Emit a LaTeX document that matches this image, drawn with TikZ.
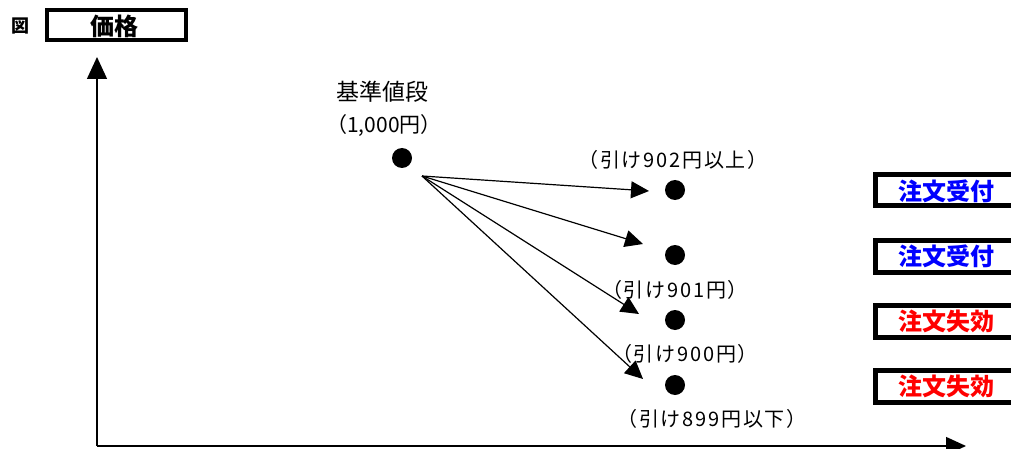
\documentclass[tikz,border=0pt]{standalone}
\usepackage{fontspec}
\setmainfont{Noto Sans CJK JP}
\newfontfamily\lblfont{Noto Sans CJK JP}[LetterSpace=9]
\usetikzlibrary{arrows.meta}
\tikzset{
  dot/.style={circle,fill=black,inner sep=0pt,minimum size=20pt},
  lbl/.style={font=\lblfont\fontsize{20}{22}\selectfont,inner sep=0pt},
  resbox/.style={draw=black,line width=5pt},
  restext/.style={font=\fontsize{24}{26}\selectfont\bfseries,inner sep=0pt},
  hit/.style={-{Triangle[length=18pt,width=17pt]},line width=1.2pt},
}
\begin{document}
\begin{tikzpicture}[x=1pt,y=-1pt]
  \useasboundingbox (0,0) rectangle (1011,449);
  \clip (0,0) rectangle (1011,449);
  % title
  \node[font=\fontsize{18}{20}\selectfont\bfseries,inner sep=0pt] (fig) at (20,26) {図};
  \draw[line width=4pt] (47,10) rectangle (186,40);
  \node[font=\fontsize{24}{26}\selectfont\bfseries,inner sep=0pt] (title) at (114,26) {価格};
  % axes
  \coordinate (o) at (97,446);
  \coordinate (ytop) at (97,57);
  \coordinate (xend) at (966,446);
  \draw[-{Triangle[length=22pt,width=20pt]},line width=1.4pt] (o) -- (ytop);
  \draw[-{Triangle[length=20pt,width=18pt]},line width=1.4pt] (o) -- (xend);
  % base price
  \node[font=\fontsize{23}{25}\selectfont,inner sep=0pt] (base) at (382,92) {基準値段};
  \node[font=\fontsize{21}{23}\selectfont,inner sep=0pt] (basep) at (384,126) {（1,000円）};
  \node[dot] (b) at (402,158) {};
  % closing prices
  \node[dot] (p1) at (675,190) {};
  \node[dot] (p2) at (675,255) {};
  \node[dot] (p3) at (675,320) {};
  \node[dot] (p4) at (675,385) {};
  \node[lbl] (l1) at (673,160) {（引け902円以上）};
  \node[lbl] (l2) at (675,290) {（引け901円）};
  \node[lbl] (l3) at (685,354) {（引け900円）};
  \node[lbl] (l4) at (712,419) {（引け899円以下）};
  % arrows
  \coordinate (s) at (422,176);
  \coordinate (t1) at (649,191);
  \coordinate (t2) at (643,244);
  \coordinate (t3) at (639,314);
  \coordinate (t4) at (643,379);
  \draw[hit] (s) -- (t1);
  \draw[hit] (s) -- (t2);
  \draw[hit] (s) -- (t3);
  \draw[hit] (s) -- (t4);
  % results
  \draw[resbox] (875,175) rectangle (1080,205);
  \draw[resbox] (875,240) rectangle (1080,272);
  \draw[resbox] (875,305) rectangle (1080,337);
  \draw[resbox] (875,370) rectangle (1080,402);
  \node[restext,text=blue] (r1) at (946,191) {注文受付};
  \node[restext,text=blue] (r2) at (946,256) {注文受付};
  \node[restext,text=red] (r3) at (946,321) {注文失効};
  \node[restext,text=red] (r4) at (946,386) {注文失効};
\end{tikzpicture}
\end{document}
